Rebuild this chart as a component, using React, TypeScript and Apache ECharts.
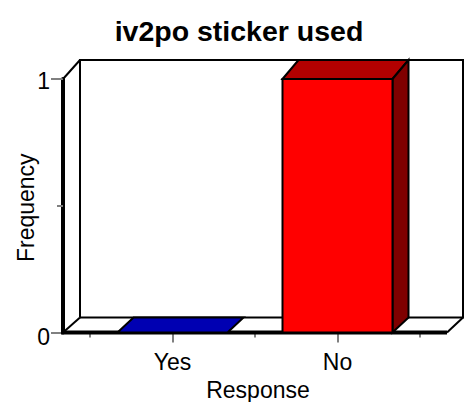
import React, { useEffect, useRef } from "react";
import * as echarts from "echarts";

const titleText = "iv2po sticker used";
const xTitle = "Response";
const yTitle = "Frequency";
const categories = ["Yes", "No"];
const values = [0, 1];
const frontColors = ["#0000ff", "#ff0000"];
const topColors = ["#0000b2", "#b20000"];
const sideColors = ["#00007f", "#7f0000"];

const FONT = "'Liberation Sans', Arial, sans-serif";
const DEPTH_X = 16;
const FLOOR_DEPTH_Y = 15;
const TOP_DEPTH_Y = 19;
const WALL_LEFT_PAD = 27;

export default function App() {
  const ref = useRef<HTMLDivElement>(null);
  useEffect(() => {
    const chart = echarts.init(ref.current!, undefined, { renderer: "svg" });
    const stroke = { stroke: "#000", lineWidth: 2, fill: "none" };
    const frame = (params: any) => {
      const c = params.coordSys;
      const l = c.x - WALL_LEFT_PAD;
      const r = c.x + c.width + WALL_LEFT_PAD;
      const t = c.y;
      const b = c.y + c.height;
      const line = (x1: number, y1: number, x2: number, y2: number, w = 2) => ({
        type: "line",
        shape: { x1, y1, x2, y2 },
        style: { stroke: "#000", lineWidth: w },
      });
      return {
        type: "group",
        children: [
          {
            type: "polyline",
            shape: {
              points: [
                [l + DEPTH_X + 1, b - FLOOR_DEPTH_Y],
                [l + DEPTH_X + 1, t - TOP_DEPTH_Y],
                [r + DEPTH_X, t - TOP_DEPTH_Y],
                [r + DEPTH_X, b - FLOOR_DEPTH_Y],
                [l + DEPTH_X + 1, b - FLOOR_DEPTH_Y],
              ],
            },
            style: stroke,
          },
          line(l, t, l + DEPTH_X + 1, t - TOP_DEPTH_Y),
          line(l, b, l + DEPTH_X + 1, b - FLOOR_DEPTH_Y),
          line(r, b, r + DEPTH_X, b - FLOOR_DEPTH_Y),
          line(l - 2, b, r, b, 4),
        ],
      };
    };
    const bar = (params: any, api: any) => {
      const i = params.dataIndex;
      const [cx, yTop] = api.coord([i, api.value(1)]);
      const [, yBase] = api.coord([i, 0]);
      const halfW = (api.size([1, 0])[0] * 2) / 3 / 2;
      const x0 = cx - halfW;
      const x1 = cx + halfW;
      const dy = api.value(1) > 0 ? TOP_DEPTH_Y : FLOOR_DEPTH_Y;
      const edge = { stroke: "#000", lineWidth: 2, lineJoin: "miter" };
      const top = {
        type: "polygon",
        shape: {
          points: [
            [x0, yTop],
            [x0 + DEPTH_X, yTop - dy],
            [x1 + DEPTH_X, yTop - dy],
            [x1, yTop],
          ],
        },
        style: { ...edge, fill: topColors[i] },
      };
      const children: any[] = [top];
      if (yBase - yTop > 0) {
        children.push({
          type: "polygon",
          shape: {
            points: [
              [x1, yTop],
              [x1 + DEPTH_X, yTop - dy],
              [x1 + DEPTH_X, yBase - FLOOR_DEPTH_Y],
              [x1, yBase],
            ],
          },
          style: { ...edge, fill: sideColors[i] },
        });
        children.push({
          type: "rect",
          shape: { x: x0, y: yTop, width: x1 - x0, height: yBase - yTop },
          style: { ...edge, fill: frontColors[i] },
        });
      }
      return { type: "group", children };
    };
    const labelFont = { fontFamily: FONT, fontSize: 23, color: "#000" };
    const tickLine = { color: "#808080", width: 2 };
    chart.setOption({
      animation: false,
      backgroundColor: "#fff",
      title: {
        text: titleText,
        left: 234,
        top: 11,
        textAlign: "center",
        textStyle: { fontFamily: FONT, fontSize: 28.5, fontWeight: "bold", color: "#000" },
      },
      grid: { left: 90, right: 53, top: 79, bottom: 69.5, outerBoundsMode: "none" },
      xAxis: [
        {
          type: "category",
          data: categories,
          name: xTitle,
          nameLocation: "middle",
          nameGap: 46,
          nameMoveOverlap: false,
          nameTextStyle: { ...labelFont, padding: [0, 0, 0, 6] },
          axisLine: { show: false },
          axisTick: { show: true, alignWithLabel: false, length: 5, lineStyle: tickLine },
          axisLabel: { ...labelFont, margin: 18, interval: 0 },
        },
        {
          type: "category",
          data: categories,
          position: "bottom",
          axisLine: { show: false },
          axisTick: { show: true, alignWithLabel: true, length: 10, lineStyle: tickLine },
          axisLabel: { show: false },
        },
      ],
      yAxis: {
        type: "value",
        min: 0,
        max: 1,
        interval: 1,
        offset: WALL_LEFT_PAD,
        name: yTitle,
        nameLocation: "middle",
        nameGap: 26,
        nameMoveOverlap: false,
        nameTextStyle: { ...labelFont, padding: [0, 4, 0, 0] },
        splitLine: { show: false },
        axisLine: { show: true, lineStyle: { color: "#000", width: 4 } },
        axisTick: { show: true, length: 12, lineStyle: tickLine },
        minorTick: { show: true, splitNumber: 2, length: 6, lineStyle: tickLine },
        axisLabel: {
          ...labelFont,
          margin: 13,
          formatter: (v: number) => (v === 0 ? "{low|0}" : "{high|1}"),
          rich: {
            low: { ...labelFont, padding: [8, 0, 0, 0] },
            high: { ...labelFont, padding: [3, 0, 0, 0] },
          },
        },
      },
      series: [
        {
          type: "custom",
          silent: true,
          z: 1,
          data: [[0, 0]],
          encode: { x: 0, y: 1 },
          renderItem: frame,
        },
        {
          type: "custom",
          z: 2,
          data: categories.map((_, i) => [i, values[i]]),
          encode: { x: 0, y: 1 },
          renderItem: bar,
        },
      ],
    });
    return () => chart.dispose();
  }, []);
  return <div ref={ref} style={{ position: "fixed", left: 0, top: 0, width: 473, height: 402 }} />;
}
